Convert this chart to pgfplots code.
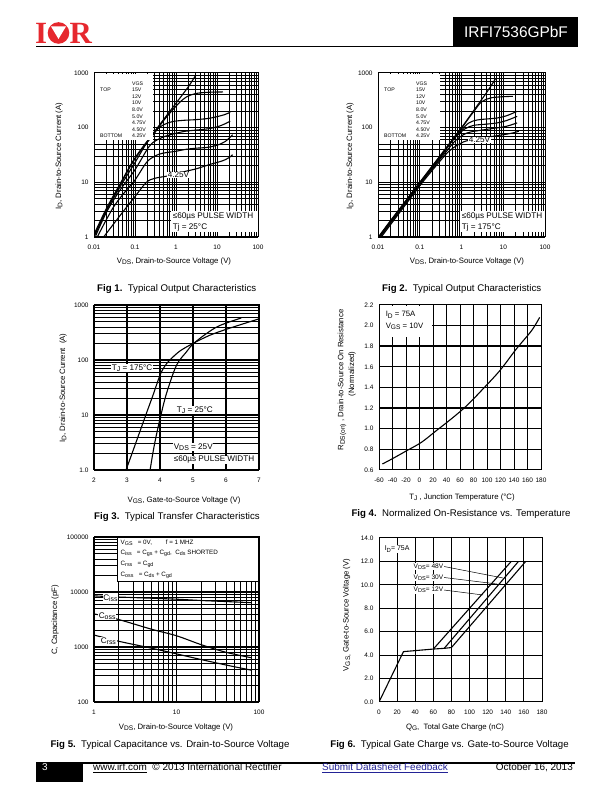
\documentclass[border=0pt]{standalone}
\usepackage{fontspec}
\setmainfont{Liberation Sans}
\newfontfamily\slab{Liberation Serif}
\usepackage{graphicx}
\usepackage{pgfplots}
\pgfplotsset{compat=1.18}
\definecolor{irred}{RGB}{230,40,46}
\definecolor{linkblue}{RGB}{35,35,150}
\newcommand{\pp}[2]{(#1,{792-(#2)})}
\newcommand{\fs}[1]{\fontsize{#1}{#1}\selectfont}
\newcommand{\sub}[1]{\raisebox{-0.35ex}{\scalebox{0.85}{#1}}}
\pgfplotsset{
  ds/.style={
    scale only axis, anchor=north west,
    axis line style={line width=1pt},
    tick style={draw=none},
    ticklabel style={font=\fs{6.5}},
    /pgf/number format/assume math mode=true,
    grid=both,
    major grid style={black,line width=1pt},
    minor grid style={black,line width=0.75pt},
    xticklabel style={yshift=-4.5bp},
    yticklabel style={xshift=-2bp},
  },
  crv/.style={black, line width=1.1pt, no marks, smooth, tension=0.55},
  lin/.style={black, line width=1.1pt, no marks},
}
\tikzset{
  lab/.style={font=\fs{7.8}, inner sep=0},
  figcap/.style={font=\fs{9.7}, inner sep=0, anchor=base},
  ann/.style={font=\fs{8.2}, inner sep=0.6pt, fill=white, anchor=west},
  leg/.style={font=\fs{5.2}, inner sep=0, anchor=west},
}
\begin{document}
\begin{tikzpicture}[x=1bp,y=1bp]
\path[use as bounding box] (0,0) rectangle (612,792);

% ---------------- header ----------------
\node[irred, font=\slab\bfseries\fs{31}, anchor=base west, inner sep=0] at \pp{35}{44} {I};
\fill[irred] \pp{58.5}{33} circle (10.8);
\fill[white] \pp{51}{26.5} -- \pp{66}{26.5} -- \pp{58.5}{39} -- cycle;
\node[irred, font=\slab\bfseries\fs{31}, anchor=base west, inner sep=0] at \pp{69.5}{44} {R};
\fill[black] \pp{453}{17} rectangle \pp{578}{46};
\node[white, font=\fs{15.5}, inner sep=0] at \pp{516}{31.5} {IRFI7536GPbF};
\draw[line width=1.6pt] \pp{36}{46.5} -- \pp{578}{46.5};

% ---------------- Fig 1 ----------------
\begin{axis}[ds, at={(94bp,719bp)}, width=164bp, height=164bp,
  xmode=log, ymode=log, xmin=0.01, xmax=100, ymin=1, ymax=1000,
  xtick={0.01,0.1,1,10,100}, xticklabels={0.01,0.1,1,10,100},
  ytick={1,10,100,1000}, yticklabels={1,10,100,1000}]
\addplot[crv] coordinates {(0.0102,1.15)(0.02,3.3)(0.042,9)(0.1,28)(0.3,85)(1,280)(2,560)(3,900)};
\addplot[crv] coordinates {(0.0104,1.1)(0.02,3.15)(0.042,8.6)(0.1,27)(0.3,80)(0.5,135)(0.8,205)(1.2,285)(1.8,365)(3,420)(6,443)(14,450)};
\addplot[crv] coordinates {(0.0106,1.1)(0.02,3.0)(0.042,8)(0.1,23)(0.2,55)(0.33,90)(0.5,113)(0.82,129)(1.5,136)(3,140)(6,147)(9.3,157)(15,172)(21,191)};
\addplot[crv] coordinates {(0.011,1.05)(0.02,2.8)(0.042,7)(0.1,17)(0.22,45)(0.35,60)(0.5,68)(1,79)(1.7,86)(3,90)(6.4,96)(12,108)(21,131)};
\addplot[crv] coordinates {(0.012,1)(0.029,3.4)(0.06,7)(0.1,11)(0.19,23)(0.3,30)(0.47,34)(1,37)(1.7,40)(3,42)(6.4,44)(12,50)(16,56)(24,74)};
\addplot[crv] coordinates {(0.0172,1)(0.042,2.4)(0.1,5.5)(0.19,10)(0.3,11.8)(0.57,12.9)(1,14)(1.7,15.9)(3,17.5)(6.4,21)(12,24)(16,26)(20,28.5)(24,32)};
\end{axis}
\fill[white] \pp{94.6}{73.6} rectangle \pp{153}{140};
\node[leg] at \pp{132}{83.3} {VGS};
\node[leg] at \pp{100}{89.9} {TOP};
\node[leg] at \pp{100}{136.1} {BOTTOM};
\foreach \v [count=\i] in {15V,12V,10V,8.0V,5.0V,4.75V,4.50V,4.25V}
  {\node[leg] at \pp{132}{83.3+6.6*\i} {\v};}
\node[ann] at \pp{167}{175} {4.25V};
\fill[white] \pp{171}{211} rectangle \pp{257.5}{232};
\node[ann] at \pp{172}{217} {≤60µs PULSE WIDTH};
\node[ann] at \pp{172}{227.5} {Tj = 25°C};
\node[lab, rotate=90] at \pp{59}{156} {I\sub{D}, Drain-to-Source Current (A)};
\node[lab] at \pp{174}{261} {V\sub{DS}, Drain-to-Source Voltage (V)};
\node[figcap] at \pp{176.7}{291.5} {\textbf{Fig 1.}\ \ Typical Output Characteristics};

% ---------------- Fig 2 ----------------
\begin{axis}[ds, at={(378bp,719bp)}, width=167bp, height=164bp,
  xmode=log, ymode=log, xmin=0.01, xmax=100, ymin=1, ymax=1000,
  xtick={0.01,0.1,1,10,100}, xticklabels={0.01,0.1,1,10,100},
  ytick={1,10,100,1000}, yticklabels={1,10,100,1000}]
\addplot[crv] coordinates {(0.0102,1)(0.02,2)(0.05,5)(0.1,10)(0.3,30)(1,100)(2,210)(4,440)(6.5,780)};
\addplot[crv] coordinates {(0.0105,1)(0.1,9.8)(0.3,29)(0.7,69)(1,97)(1.5,150)(2,200)(3,295)(5,350)(10,368)(17,374)};
\addplot[crv] coordinates {(0.0105,1)(0.1,9.7)(0.3,28.5)(0.6,57)(1,90)(1.5,122)(2.35,138)(4,144)(7.1,150)(12,165)(21.5,199)};
\addplot[crv] coordinates {(0.011,1)(0.1,9.4)(0.3,27.5)(0.6,58)(0.8,72)(1.2,95)(1.95,110)(4,116)(7.1,122)(12,135)(21.5,161)};
\addplot[crv] coordinates {(0.0112,1)(0.1,9.1)(0.3,26)(0.5,42)(0.7,57)(1.1,74)(1.62,83)(4,93)(7.1,99)(12,106)(21.5,122)};
\addplot[crv] coordinates {(0.012,1)(0.1,8.6)(0.3,24)(0.5,37)(0.8,48)(1.12,55)(2,62)(4.07,67)(10.3,74.5)(17,80)(23.6,86)};
\end{axis}
\fill[white] \pp{378.6}{73.6} rectangle \pp{440}{140};
\node[leg] at \pp{416}{83.3} {VGS};
\node[leg] at \pp{384}{89.9} {TOP};
\node[leg] at \pp{384}{136.1} {BOTTOM};
\foreach \v [count=\i] in {15V,12V,10V,8.0V,5.0V,4.75V,4.50V,4.25V}
  {\node[leg] at \pp{416}{83.3+6.6*\i} {\v};}
\node[ann] at \pp{468}{140} {4.25V};
\fill[white] \pp{460}{211} rectangle \pp{544.5}{232};
\node[ann] at \pp{461}{217} {≤60µs PULSE WIDTH};
\node[ann] at \pp{461}{227.5} {Tj = 175°C};
\node[lab, rotate=90] at \pp{350}{156} {I\sub{D}, Drain-to-Source Current (A)};
\node[lab] at \pp{467}{261.5} {V\sub{DS}, Drain-to-Source Voltage (V)};
\node[figcap] at \pp{461.7}{291.5} {\textbf{Fig 2.}\ \ Typical Output Characteristics};

% ---------------- Fig 3 ----------------
\begin{axis}[ds, at={(94bp,487bp)}, width=165bp, height=165bp,
  ymode=log, xmin=2, xmax=7, ymin=1, ymax=1000,
  xtick={2,3,4,5,6,7}, xticklabels={2,3,4,5,6,7},
  ytick={1,10,100,1000}, yticklabels={1.0,10,100,1000},
  major grid style={black,line width=1.6pt}]
\addplot[crv] coordinates {(2.97,1)(3.2,2.4)(3.57,10)(3.8,24)(4.0,53)(4.15,78)(4.3,100)(4.6,145)(5,200)(5.5,280)(6,360)(6.5,450)(7,560)};
\addplot[crv] coordinates {(3.70,1)(3.8,2.3)(3.9,4.6)(4.0,8.5)(4.2,25)(4.5,80)(4.8,140)(5,195)(5.4,300)(5.8,420)(6.46,580)};
\end{axis}
\node[ann] at \pp{111}{368} {T\sub{J} = 175°C};
\node[ann] at \pp{176}{410} {T\sub{J} = 25°C};
\node[ann] at \pp{173}{447} {V\sub{DS} = 25V};
\node[ann] at \pp{173}{460} {≤60µs PULSE WIDTH};
\node[lab, rotate=90] at \pp{63}{388} {I\sub{D}, Drain-to-Source Current\ \ (A)};
\node[lab] at \pp{184}{500} {V\sub{GS}, Gate-to-Source Voltage (V)};
\node[figcap] at \pp{177}{519.5} {\textbf{Fig 3.}\ \ Typical Transfer Characteristics};

% ---------------- Fig 4 ----------------
\begin{axis}[ds, at={(379bp,487bp)}, width=162bp, height=165bp,
  xmin=-60, xmax=180, ymin=0.6, ymax=2.2, grid=major,
  xtick={-60,-40,...,180}, xticklabels={-60,-40,-20,0,20,40,60,80,100,120,140,160,180},
  ytick={0.6,0.8,...,2.21}, yticklabels={0.6,0.8,1.0,1.2,1.4,1.6,1.8,2.0,2.2}]
\draw[line width=1.7pt] (axis cs:80,0.6) -- (axis cs:80,2.2);
\draw[line width=1.7pt] (axis cs:-60,1.2) -- (axis cs:180,1.2);
\draw[line width=1.7pt] (axis cs:-60,1.8) -- (axis cs:180,1.8);
\addplot[crv] coordinates {(-55,0.658)(-40,0.71)(-19,0.787)(3,0.869)(25,0.982)(47,1.095)(70,1.224)(94,1.386)(119,1.564)(143.5,1.774)(166,1.951)(178,2.08)};
\end{axis}
\fill[white] \pp{379.6}{305.6} rectangle \pp{432}{337};
\node[ann, font=\fs{7.8}] at \pp{385}{315} {I\sub{D} = 75A};
\node[ann, font=\fs{7.8}] at \pp{385}{326.5} {V\sub{GS} = 10V};
\node[lab, rotate=90] at \pp{342}{380} {R\sub{DS(on)} , Drain-to-Source On Resistance};
\node[lab, rotate=90] at \pp{352}{374} {(Normalized)};
\node[lab] at \pp{462}{497} {T\sub{J} , Junction Temperature (°C)};
\node[figcap] at \pp{461}{516.5} {\textbf{Fig 4.}\ \ Normalized On-Resistance vs. Temperature};

% ---------------- Fig 5 ----------------
\begin{axis}[ds, at={(94bp,255bp)}, width=165bp, height=165bp,
  xmode=log, ymode=log, xmin=1, xmax=100, ymin=100, ymax=100000,
  xtick={1,10,100}, xticklabels={1,10,100},
  ytick={100,1000,10000,100000}, yticklabels={100,1000,10000,100000},
  major grid style={black,line width=1.4pt}]
\addplot[crv] coordinates {(1,8500)(2,8100)(5,7700)(10,7400)(20,7000)(40,6700)(80,6400)};
\addplot[crv] coordinates {(1,4000)(2,3150)(5,2100)(10,1600)(20,1100)(40,800)(80,640)};
\addplot[crv] coordinates {(1,1650)(2,1270)(5,950)(10,750)(20,590)(40,470)(80,380)};
\end{axis}
\filldraw[fill=white, draw=black, line width=0.8pt] \pp{117}{537.5} rectangle \pp{258.5}{581};
\node[leg, font=\fs{6.3}] at \pp{120.5}{543} {V\sub{GS}\ \ \ = 0V,\hspace{12pt} f = 1 MHZ};
\node[leg, font=\fs{6.3}] at \pp{120.5}{553} {C\sub{iss}\ \ \ = C\sub{gs} + C\sub{gd},\ \ C\sub{ds} SHORTED};
\node[leg, font=\fs{6.3}] at \pp{120.5}{564} {C\sub{rss}\ \ \ = C\sub{gd}};
\node[leg, font=\fs{6.3}] at \pp{120.5}{575} {C\sub{oss}\ \ \ = C\sub{ds} + C\sub{gd}};
\node[ann] at \pp{102.5}{598} {C\sub{iss}};
\node[ann] at \pp{98}{616} {C\sub{oss}};
\node[ann] at \pp{100}{641} {C\sub{rss}};
\node[lab, rotate=90] at \pp{55}{620} {C, Capacitance (pF)};
\node[lab] at \pp{176}{727} {V\sub{DS}, Drain-to-Source Voltage (V)};
\node[figcap] at \pp{170}{748} {\textbf{Fig 5.}\ \ Typical Capacitance vs. Drain-to-Source Voltage};

% ---------------- Fig 6 ----------------
\begin{axis}[ds, at={(379bp,254bp)}, width=163bp, height=164bp,
  xmin=0, xmax=180, ymin=0, ymax=14, grid=major,
  xtick={0,20,...,180}, xticklabels={0,20,40,60,80,100,120,140,160,180},
  ytick={0,2,...,14}, yticklabels={0.0,2.0,4.0,6.0,8.0,10.0,12.0,14.0}]
\draw[line width=1.8pt] (axis cs:0,2) -- (axis cs:180,2);
\draw[line width=1.8pt] (axis cs:0,12) -- (axis cs:180,12);
\addplot[lin] coordinates {(0,0)(27,4.3)(45,4.42)(60,4.52)(146,12)};
\addplot[lin] coordinates {(60,4.52)(72,4.58)(154,12)};
\addplot[lin] coordinates {(72,4.58)(80,4.65)(162,12)};
\end{axis}
\node[ann, font=\fs{7}] at \pp{384}{549} {I\sub{D}= 75A};
\draw[line width=0.5pt] \pp{444}{566.5} -- \pp{503}{578};
\draw[line width=0.5pt] \pp{444}{577.5} -- \pp{497}{584};
\draw[line width=0.5pt] \pp{444}{590} -- \pp{483}{595};
\node[ann, font=\fs{6.6}, anchor=east] at \pp{444}{566.5} {V\sub{DS}= 48V};
\node[ann, font=\fs{6.6}, anchor=east] at \pp{444}{577.5} {V\sub{DS}= 30V};
\node[ann, font=\fs{6.6}, anchor=east] at \pp{444}{590} {V\sub{DS}= 12V};
\node[lab, rotate=90] at \pp{347}{615} {V\sub{GS,} Gate-to-Source Voltage (V)};
\node[lab] at \pp{455}{727} {Q\sub{G},\ \ Total Gate Charge (nC)};
\node[figcap] at \pp{449.5}{748} {\textbf{Fig 6.}\ \ Typical Gate Charge vs. Gate-to-Source Voltage};

% ---------------- footer ----------------
\draw[line width=1.6pt] \pp{36}{763} -- \pp{575}{763};
\fill[black] \pp{36}{763} rectangle \pp{83}{782};
\node[white, font=\fs{10}, inner sep=0, anchor=base] at \pp{45}{770.8} {3};
\node[font=\fs{10}, inner sep=0, anchor=base west] at \pp{93}{770.8} {\underline{www.irf.com}\ \ © 2013 International Rectifier};
\node[font=\fs{10}, inner sep=0, anchor=base west, text=linkblue] at \pp{322}{770.8} {\underline{Submit Datasheet Feedback}};
\node[font=\fs{10}, inner sep=0, anchor=base east] at \pp{573}{770.8} {October 16, 2013};
\end{tikzpicture}
\end{document}
